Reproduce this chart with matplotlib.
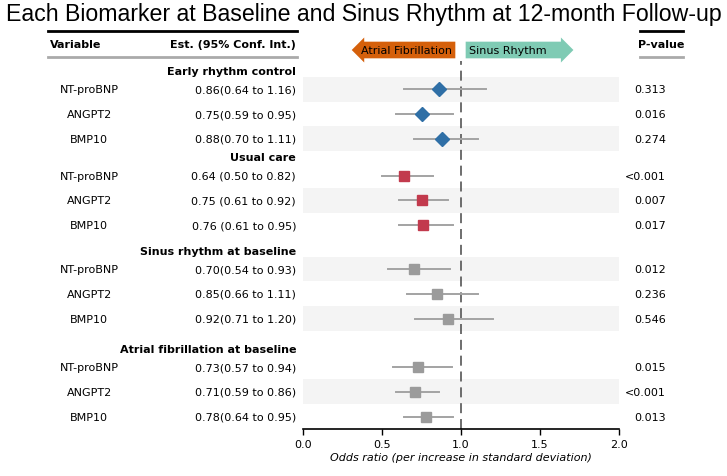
import matplotlib.pyplot as plt
from matplotlib.lines import Line2D

groups = ['Early rhythm control', 'Usual care', 'Sinus rhythm at baseline', 'Atrial fibrillation at baseline']
variables = ['NT-proBNP', 'ANGPT2', 'BMP10']

est = [[0.86, 0.75, 0.88], [0.64, 0.75, 0.76], [0.70, 0.85, 0.92], [0.73, 0.71, 0.78]]
lo = [[0.64, 0.59, 0.70], [0.50, 0.61, 0.61], [0.54, 0.66, 0.71], [0.57, 0.59, 0.64]]
hi = [[1.16, 0.95, 1.11], [0.82, 0.92, 0.95], [0.93, 1.11, 1.20], [0.94, 0.86, 0.95]]
est_text = [['0.86(0.64 to 1.16)', '0.75(0.59 to 0.95)', '0.88(0.70 to 1.11)'],
            ['0.64 (0.50 to 0.82)', '0.75 (0.61 to 0.92)', '0.76 (0.61 to 0.95)'],
            ['0.70(0.54 to 0.93)', '0.85(0.66 to 1.11)', '0.92(0.71 to 1.20)'],
            ['0.73(0.57 to 0.94)', '0.71(0.59 to 0.86)', '0.78(0.64 to 0.95)']]
pvals = [['0.313', '0.016', '0.274'], ['<0.001', '0.007', '0.017'],
         ['0.012', '0.236', '0.546'], ['0.015', '<0.001', '0.013']]

# style per group
mk = ['D', 's', 's', 's']
mcol = ['#2f6fa6', '#c23a4d', '#9b9b9b', '#9b9b9b']
group_base = [11.2, 7.72, 3.95, 0.0]

plt.rcParams['font.family'] = ['DejaVu Sans']
fig = plt.figure(figsize=(7.27, 4.77), dpi=100)
ax = fig.add_axes([303 / 727, 1 - 430 / 477, 316 / 727, 368 / 477])

row = 0
for g in range(len(groups)):
    b = group_base[g]
    ax.text(-0.022, b + 2.73, groups[g], transform=ax.get_yaxis_transform(), ha='right', va='center',
            fontsize=8, fontweight='bold', clip_on=False)
    for i in range(3):
        y = b + 2 - i
        if row % 2 == 0:
            ax.axhspan(y - 0.5, y + 0.5, color='#f4f4f4', zorder=0, lw=0)
        ax.plot([lo[g][i], hi[g][i]], [y, y], color='#a3a3a3', lw=1.4, zorder=2)
        ax.plot(est[g][i], y, marker=mk[g], color=mcol[g], markersize=7 if mk[g] == 'D' else 7.5, zorder=3)
        ax.text(-0.677, y, variables[i], transform=ax.get_yaxis_transform(), ha='center', va='center',
                fontsize=8, clip_on=False)
        ax.text(-0.022, y, est_text[g][i], transform=ax.get_yaxis_transform(), ha='right', va='center',
                fontsize=8, clip_on=False)
        ax.text(1.149, y, pvals[g][i], transform=ax.get_yaxis_transform(), ha='right', va='center',
                fontsize=8, clip_on=False)
        row += 1

ax.axvline(1, color='#555555', ls=(0, (6, 3.5)), lw=1.2, zorder=1)
ax.set_xlim(0, 2)
ax.set_ylim(-0.5, 14.34)
ax.set_xticks([0, 0.5, 1.0, 1.5, 2.0])
ax.tick_params(axis='x', labelsize=8, length=4, width=1)
ax.set_yticks([])
for s in ['top', 'right', 'left']:
    ax.spines[s].set_visible(False)
ax.spines['bottom'].set_linewidth(1.2)
ax.set_xlabel('Odds ratio (per increase in standard deviation)', fontsize=8, style='italic', labelpad=2)

# table headers
fig.text(50 / 727, 1 - 45 / 477, 'Variable', fontsize=8, fontweight='bold', ha='left', va='center')
fig.text(296 / 727, 1 - 45 / 477, 'Est. (95% Conf. Int.)', fontsize=8, fontweight='bold', ha='right', va='center')
fig.text(661 / 727, 1 - 45 / 477, 'P-value', fontsize=8, fontweight='bold', ha='center', va='center')
for x0, x1 in [(48, 297), (640, 683)]:
    fig.add_artist(Line2D([x0 / 727, x1 / 727], [1 - 32 / 477] * 2, color='black', lw=2))
    fig.add_artist(Line2D([x0 / 727, x1 / 727], [1 - 58 / 477] * 2, color='#aaaaaa', lw=2))

# direction arrows
fig.text(452 / 727, 1 - 51 / 477, 'Atrial Fibrillation', fontsize=8, ha='right', va='center',
         bbox=dict(boxstyle='larrow,pad=0.3', fc='#d5600b', ec='none'))
fig.text(469 / 727, 1 - 51 / 477, 'Sinus Rhythm     ', fontsize=8, ha='left', va='center',
         bbox=dict(boxstyle='rarrow,pad=0.3', fc='#7fcbb4', ec='none'))

fig.text(0.5, 1 - 15 / 477, 'Each Biomarker at Baseline and Sinus Rhythm at 12-month Follow-up',
         fontsize=16.7, family='Liberation Sans', ha='center', va='center')

fig.savefig('out.png', dpi=100)
